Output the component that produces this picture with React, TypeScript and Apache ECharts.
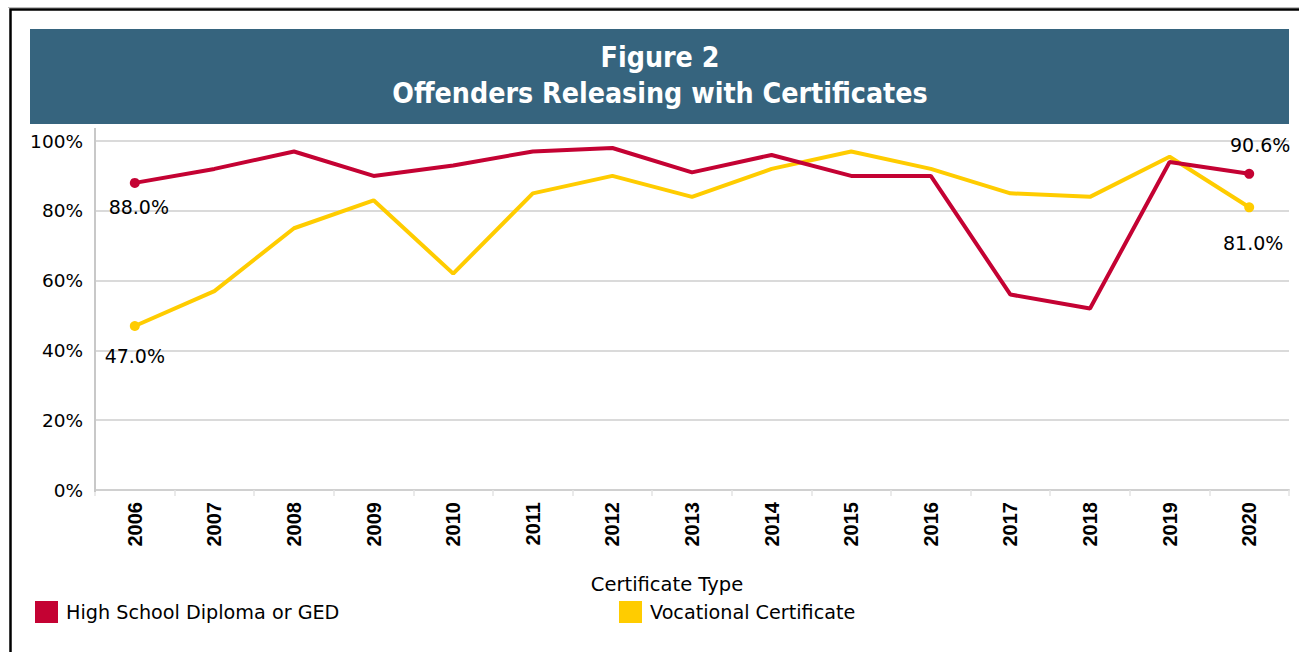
import React, { useEffect, useRef } from "react";
import * as echarts from "echarts";

const years = ["2006","2007","2008","2009","2010","2011","2012","2013","2014","2015","2016","2017","2018","2019","2020"];
const highSchool = [88.0, 92, 97, 90, 93, 97, 98, 91, 96, 90, 90, 56, 52, 94, 90.6];
const vocational = [47.0, 57, 75, 83, 62, 85, 90, 84, 92, 97, 92, 85, 84, 95.5, 81.0];
const yTicks = [0, 20, 40, 60, 80, 100];
const seriesNames = ["High School Diploma or GED", "Vocational Certificate"];
const titleLines = ["Figure 2", "Offenders Releasing with Certificates"];
const legendTitle = "Certificate Type";

const RED = "#c40233";
const YELLOW = "#ffcc00";
const FONT = "'DejaVu Sans', sans-serif";

function buildData(values: number[], firstLabel: any, lastLabel: any) {
  return values.map((v, i) => {
    if (i === 0) return { value: v, symbol: "circle", symbolSize: 10, label: firstLabel };
    if (i === values.length - 1) return { value: v, symbol: "circle", symbolSize: 10, label: lastLabel };
    return { value: v, symbol: "none" };
  });
}

export default function App() {
  const ref = useRef<HTMLDivElement>(null);
  useEffect(() => {
    if (!ref.current) return;
    const chart = echarts.init(ref.current, null, { renderer: "svg" });
    const labelBase = {
      show: true,
      formatter: (p: any) => p.value.toFixed(1) + "%",
      fontFamily: FONT,
      fontSize: 19,
      color: "#000",
    };
    chart.setOption({
      animation: false,
      backgroundColor: "#fff",
      graphic: [
        {
          type: "polyline",
          shape: { points: [[8, 7.5], [1299, 7.5]] },
          style: { stroke: "#bdbdbd", lineWidth: 1, fill: null },
          silent: true,
        },
        {
          type: "polyline",
          shape: { points: [[10.5, 652], [10.5, 9.5], [1299, 9.5]] },
          style: { stroke: "#000", lineWidth: 2.5, fill: null },
          silent: true,
        },
        {
          type: "rect",
          shape: { x: 30, y: 29, width: 1259, height: 95 },
          style: { fill: "#36647e" },
          silent: true,
        },
        {
          type: "line",
          shape: { x1: 95, y1: 128, x2: 95, y2: 492 },
          style: { stroke: "#c8c8c8", lineWidth: 2 },
          silent: true,
          z: 10,
        },
      ],
      title: [
        {
          text: titleLines.join("\n"),
          left: 655,
          top: 34,
          textAlign: "center",
          textStyle: {
            color: "#fff",
            fontFamily: "'DejaVu Sans Condensed', 'DejaVu Sans', sans-serif",
            fontWeight: "bold",
            fontSize: 28.3,
            lineHeight: 36,
          },
        },
        {
          text: legendTitle,
          left: 662,
          top: 569,
          textAlign: "center",
          textStyle: { color: "#000", fontFamily: FONT, fontWeight: "normal", fontSize: 19.5 },
        },
      ],
      legend: [
        {
          data: [{ name: seriesNames[0], icon: "rect" }],
          left: 35,
          top: 601,
          padding: 0,
          itemWidth: 23,
          itemHeight: 22,
          textStyle: { fontFamily: FONT, fontSize: 19.2, color: "#000", padding: [0, 0, 0, 3] },
          selectedMode: false,
        },
        {
          data: [{ name: seriesNames[1], icon: "rect" }],
          left: 619,
          top: 601,
          padding: 0,
          itemWidth: 23,
          itemHeight: 22,
          textStyle: { fontFamily: FONT, fontSize: 19.2, color: "#000", padding: [0, 0, 0, 3] },
          selectedMode: false,
        },
      ],
      grid: { left: 95, right: 10, top: 141, bottom: 162, containLabel: false },
      xAxis: {
        type: "category",
        data: years,
        boundaryGap: true,
        axisLine: { show: true, lineStyle: { color: "#d0d0d0", width: 2 } },
        axisTick: { show: true, length: 6, lineStyle: { color: "#e3e3e3", width: 1.5 } },
        axisLabel: {
          rotate: 90,
          margin: 12,
          interval: 0,
          fontFamily: "'Liberation Sans', Arial, sans-serif",
          fontWeight: "bold",
          fontSize: 20,
          color: "#000",
        },
      },
      yAxis: {
        type: "value",
        min: yTicks[0],
        max: yTicks[yTicks.length - 1],
        interval: yTicks[1] - yTicks[0],
        axisLine: { show: false },
        axisTick: { show: false },
        splitLine: { show: true, lineStyle: { color: "#dadada", width: 2 } },
        axisLabel: {
          formatter: "{value}%",
          margin: 12,
          fontFamily: FONT,
          fontSize: 18.5,
          color: "#000",
        },
      },
      series: [
        {
          name: seriesNames[0],
          type: "line",
          showAllSymbol: true,
          symbol: "circle",
          itemStyle: { color: RED },
          lineStyle: { color: RED, width: 4 },
          data: buildData(
            highSchool,
            { ...labelBase, position: "bottom", distance: 10, offset: [4, 0] },
            { ...labelBase, position: "top", distance: 14, offset: [11, 0] }
          ),
          z: 3,
        },
        {
          name: seriesNames[1],
          type: "line",
          showAllSymbol: true,
          symbol: "circle",
          itemStyle: { color: YELLOW },
          lineStyle: { color: YELLOW, width: 4 },
          data: buildData(
            vocational,
            { ...labelBase, position: "bottom", distance: 16, offset: [0, 0] },
            { ...labelBase, position: "bottom", distance: 21, offset: [4, 0] }
          ),
          z: 2,
        },
      ],
    });
    return () => chart.dispose();
  }, []);
  return (
    <div
      ref={ref}
      style={{ position: "fixed", left: 0, top: 0, width: 1299, height: 652 }}
    />
  );
}
